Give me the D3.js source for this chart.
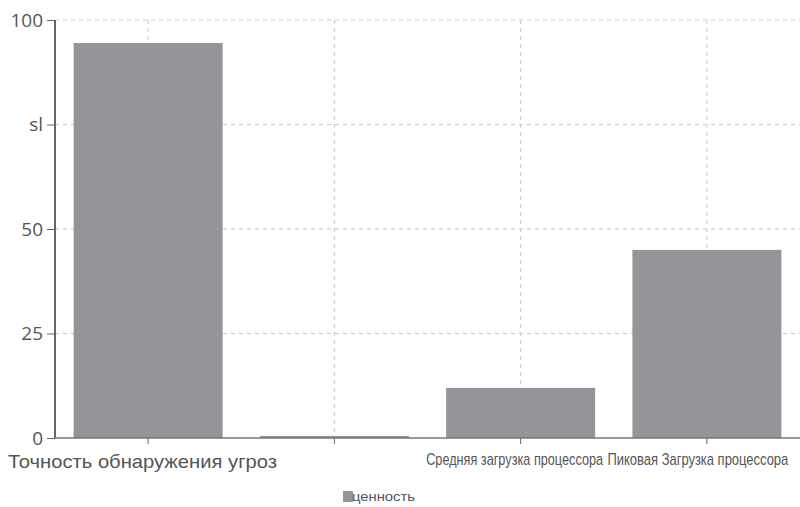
<!DOCTYPE html>
<html><head><meta charset="utf-8">
<script src="https://cdn.jsdelivr.net/npm/d3@7"></script>
<style>body{margin:0;background:#fff}svg{display:block}</style>
</head><body>
<svg id="c" width="800" height="507"></svg>
<script>
const categories = ["Точность обнаружения угроз", "Ложные срабатывания", "Средняя загрузка процессора", "Пиковая Загрузка процессора"];
const xTickLabels = ["Точность обнаружения угроз", "", "Средняя загрузка процессора", "Пиковая Загрузка процессора"];
const values = [94.5, 0.5, 12, 45];
const yTicks = [0, 25, 50, 75, 100];
const yTickLabels = ["0", "25", "50", "sl", "100"];
const seriesName = "ценность";

(function () {
const svg = d3.select("#c");
const mLeft = 55, mRight = 800, mTop = 20, mBottom = 438;
const x = d3.scaleBand().domain(categories).range([mLeft, mRight]).paddingInner(0.2).paddingOuter(0.1);
const y = d3.scaleLinear().domain([0, 100]).range([mBottom, mTop]);
const barColor = "#949598";
const textColor = "#555";

// grid
const g = svg.append("g");
g.selectAll(".hg").data(yTicks.filter(d => d > 0)).join("line")
  .attr("x1", mLeft).attr("x2", mRight).attr("y1", d => y(d)).attr("y2", d => y(d))
  .attr("stroke", "#c8c8c8").attr("stroke-dasharray", "4,4");
g.selectAll(".vg").data(categories).join("line")
  .attr("x1", d => x(d) + x.bandwidth() / 2).attr("x2", d => x(d) + x.bandwidth() / 2)
  .attr("y1", mTop).attr("y2", mBottom)
  .attr("stroke", "#c8c8c8").attr("stroke-dasharray", "4,4");

// bars
svg.selectAll(".bar").data(values).join("rect")
  .attr("x", (d, i) => x(categories[i])).attr("width", x.bandwidth())
  .attr("y", d => y(d)).attr("height", d => mBottom - y(d))
  .attr("fill", barColor);

// y axis
const yAxis = svg.append("g").attr("transform", `translate(${mLeft},0)`)
  .call(d3.axisLeft(y).tickValues(yTicks).tickFormat((d, i) => yTickLabels[i]).tickSize(8).tickPadding(4));
yAxis.select(".domain").attr("stroke", "#666").attr("stroke-width", 2).attr("d", `M0,${mTop}V${mBottom}`);
yAxis.selectAll(".tick line").attr("stroke", "#666");
yAxis.selectAll(".tick text").attr("fill", textColor).attr("font-family", "Open Sans, sans-serif").attr("font-size", 19);

// x axis
const xAxis = svg.append("g").attr("transform", `translate(0,${mBottom})`)
  .call(d3.axisBottom(x).tickFormat((d, i) => xTickLabels[i]).tickSize(6).tickPadding(8));
xAxis.select(".domain").attr("stroke", "#777").attr("stroke-width", 1.5).attr("d", `M${mLeft},0H${mRight}`);
xAxis.selectAll(".tick line").attr("stroke", "#666");
const labelShift = [0, 0, -6, -9];
const labelTarget = [0, 0, 177, 181];
xAxis.selectAll(".tick text").attr("fill", textColor).attr("font-family", "'Liberation Sans', Arial, sans-serif")
  .each(function(d, i) {
    const t = d3.select(this);
    if (i === 0) {
      t.attr("font-size", 19).attr("text-anchor", "start").attr("x", 8 - (x(d) + x.bandwidth() / 2)).attr("dy", "0.85em")
       .attr("textLength", 269).attr("lengthAdjust", "spacingAndGlyphs");
    } else if (i >= 2) {
      t.attr("font-size", 16).attr("dy", "0.8em");
      const w = this.getComputedTextLength();
      t.attr("transform", `translate(${labelShift[i]},0) scale(${labelTarget[i] / w},1)`);
    }
  });

// legend
const lg = svg.append("g");
lg.append("rect").attr("x", 343).attr("y", 491).attr("width", 10).attr("height", 11).attr("fill", barColor);
const lt = lg.append("text").attr("y", 501).text(seriesName)
  .attr("font-family", "'Liberation Sans', Arial, sans-serif").attr("font-size", 13).attr("fill", textColor);
const lw = lt.node().getComputedTextLength();
lt.attr("transform", `translate(352,0) scale(${63 / lw},1)`);
})();
</script>
</body></html>
